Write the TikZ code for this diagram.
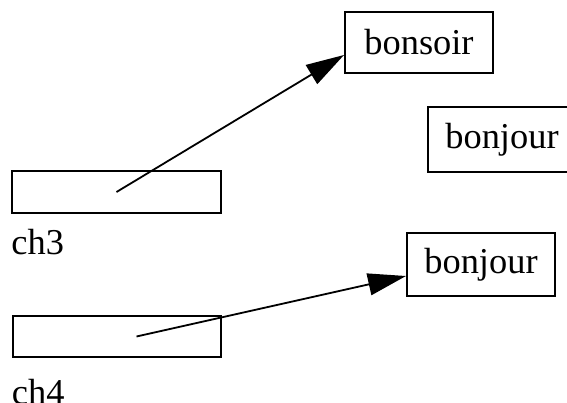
\documentclass[tikz,border=0pt]{standalone}
\usepackage{fontspec}
\setmainfont{Liberation Serif}
\usetikzlibrary{arrows.meta,positioning}
\begin{document}
\begin{tikzpicture}[x=0.5pt,y=-0.5pt,
  box/.style={draw,line width=1pt,inner sep=0pt,font=\fontsize{18.2}{20}\selectfont},
  var/.style={inner sep=0pt,font=\fontsize{18.2}{20}\selectfont},
  ptr/.style={line width=0.9pt,-{Triangle[length=19pt,width=11pt]}}]
\useasboundingbox (0,0) rectangle (567,402);
%variables ch3, ch4
\node [box,minimum width=104.5pt,minimum height=21pt] (ch3box) at (116.5,192) {};
\node [box,minimum width=104pt,minimum height=20.5pt] (ch4box) at (116.5,336.5) {};
\node [var,below right=7.5pt and 0pt of ch3box.south west] (ch3) {ch3};
\node [var,below right=10.5pt and 0pt of ch4box.south west] (ch4) {ch4};

%chaines
\node [box,minimum width=74pt,minimum height=30.5pt] (bonsoir) at (419,42.5) {bonsoir};
\node [box,minimum width=74pt,minimum height=32.5pt] (bonjourA) at (502,139.5) {bonjour};
\node [box,minimum width=74pt,minimum height=31.5pt] (bonjourB) at (481,264.5) {bonjour};

\draw [ptr] (ch3box.center) -- ([yshift=-6.25pt]bonsoir.west);
\draw [ptr] ([xshift=10pt]ch4box.center) -- ([yshift=-5.75pt]bonjourB.west);
\end{tikzpicture}
\end{document}
